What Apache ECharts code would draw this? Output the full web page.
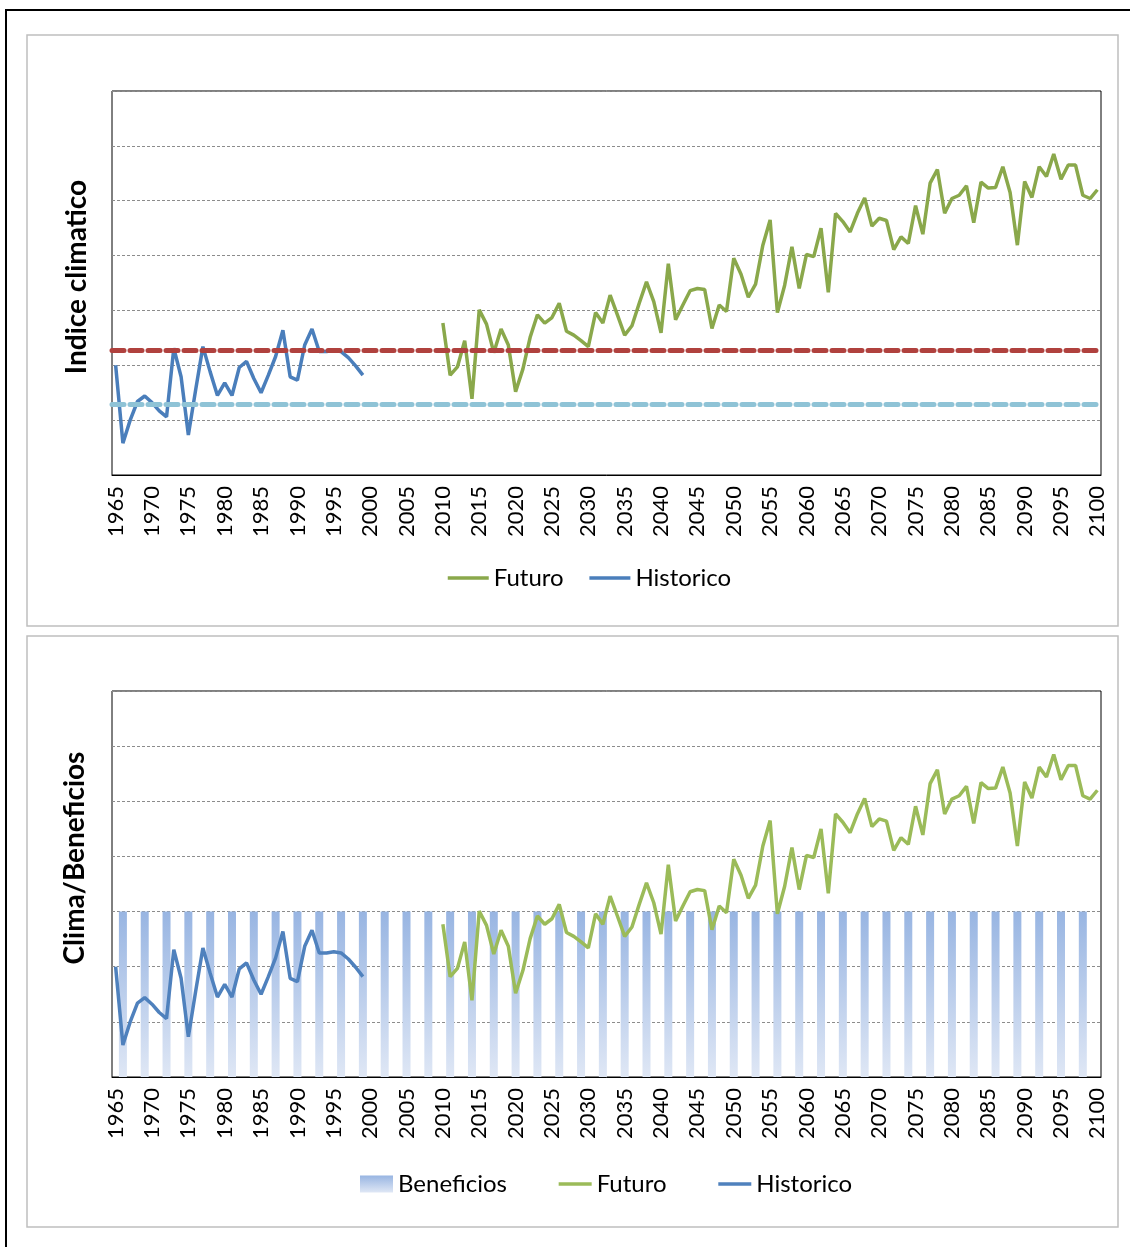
<!DOCTYPE html>
<html>
<head>
<meta charset="utf-8">
<script src="https://cdn.jsdelivr.net/npm/echarts@6/dist/echarts.min.js"></script>
<style>
  html, body { margin: 0; padding: 0; background: #fff; }
  #chart { width: 1130px; height: 1247px; }
</style>
</head>
<body>
<div id="chart"></div>
<script>
// categorias: un año por categoria
const anioInicio = 1965;
const anioFin = 2100;
const anios = [];
for (let y = anioInicio; y <= anioFin; y++) anios.push(String(y));

// Historico 1965-1999
const historicoInicio = 1965;
const historico = [2.00, 0.58, 1.00, 1.34, 1.44, 1.32, 1.17, 1.06, 2.31, 1.79,
  0.73, 1.55, 2.34, 1.88, 1.45, 1.68, 1.45, 1.96, 2.07, 1.76,
  1.50, 1.82, 2.16, 2.64, 1.79, 1.73, 2.37, 2.66, 2.25, 2.25,
  2.27, 2.25, 2.14, 1.99, 1.82];

// Futuro 2010-2100
const futuroInicio = 2010;
const futuro = [2.77, 1.82, 1.97, 2.45, 1.39, 3.01, 2.75, 2.23, 2.66, 2.37,
  1.52, 1.93, 2.51, 2.92, 2.77, 2.87, 3.13, 2.62, 2.55, 2.45,
  2.34, 2.96, 2.77, 3.28, 2.92, 2.55, 2.72, 3.13, 3.52, 3.16,
  2.59, 3.85, 2.83, 3.10, 3.36, 3.40, 3.38, 2.67, 3.10, 2.98,
  3.95, 3.66, 3.24, 3.48, 4.19, 4.65, 2.96, 3.46, 4.16, 3.40,
  4.02, 3.98, 4.50, 3.33, 4.77, 4.62, 4.43, 4.77, 5.05, 4.54,
  4.68, 4.64, 4.11, 4.34, 4.22, 4.91, 4.39, 5.32, 5.57, 4.77,
  5.04, 5.10, 5.27, 4.60, 5.34, 5.23, 5.24, 5.62, 5.15, 4.19,
  5.35, 5.06, 5.62, 5.44, 5.85, 5.39, 5.65, 5.65, 5.10, 5.04,
  5.20];

// Beneficios (barras cada 3 años)
const beneficiosAnios = [1966, 1969, 1972, 1975, 1978, 1981, 1984, 1987, 1990, 1993,
  1996, 1999, 2002, 2005, 2008, 2011, 2014, 2017, 2020, 2023,
  2026, 2029, 2032, 2035, 2038, 2041, 2044, 2047, 2050, 2053,
  2056, 2059, 2062, 2065, 2068, 2071, 2074, 2077, 2080, 2083,
  2086, 2089, 2092, 2095, 2098];
const beneficios = [3, 3, 3, 3, 3, 3, 3, 3, 3, 3,
  3, 3, 3, 3, 3, 3, 3, 3, 3, 3,
  3, 3, 3, 3, 3, 3, 3, 3, 3, 3,
  3, 3, 3, 3, 3, 3, 3, 3, 3, 3,
  3, 3, 3, 3, 3];

// umbrales (lineas discontinuas)
const umbralAlto = 2.27;
const umbralBajo = 1.29;

const font = "Lato";
const serieDesde = (inicio, valores) => valores.map((v, i) => [String(inicio + i), v]);

const xAxisBase = (gridIndex) => ({
  type: "category",
  gridIndex,
  data: anios,
  boundaryGap: true,
  axisLine: { lineStyle: { color: "#000", width: 1 } },
  axisTick: { show: false },
  axisLabel: {
    interval: 4,
    rotate: 90,
    margin: 11,
    color: "#000",
    fontFamily: font,
    fontSize: 22,
  },
});

const yAxisBase = (gridIndex) => ({
  type: "value",
  gridIndex,
  min: 0,
  max: 7,
  interval: 1,
  axisLine: { show: false },
  axisTick: { show: false },
  axisLabel: { show: false },
  splitLine: { lineStyle: { color: "#8c8c8c", type: [3, 2], width: 1 } },
});

// item de leyenda tipo linea, sin simbolo
const itemLinea = (name, color) => ({
  name,
  itemStyle: { opacity: 0 },
  lineStyle: { color, width: 3.5, opacity: 1 },
});

const chart = echarts.init(document.getElementById("chart"));
chart.setOption({
  animation: false,
  backgroundColor: "#fff",
  graphic: [
    // marco exterior
    { type: "rect", shape: { x: 6, y: 10, width: 1140, height: 1250 },
      style: { fill: "none", stroke: "#000", lineWidth: 2 }, silent: true },
    // paneles
    { type: "rect", shape: { x: 27, y: 35, width: 1091, height: 591 },
      style: { fill: "none", stroke: "#bfbfbf", lineWidth: 1.5 }, silent: true },
    { type: "rect", shape: { x: 27, y: 636, width: 1091, height: 591 },
      style: { fill: "none", stroke: "#bfbfbf", lineWidth: 1.5 }, silent: true },
    // titulos de eje
    { type: "text", x: 77, y: 277, rotation: Math.PI / 2,
      style: { text: "Indice climatico", fill: "#000", font: "bold 28px " + font,
        textAlign: "center", textVerticalAlign: "middle" } },
    { type: "text", x: 75, y: 858, rotation: Math.PI / 2,
      style: { text: "Clima/Beneficios", fill: "#000", font: "bold 28px " + font,
        textAlign: "center", textVerticalAlign: "middle" } },
  ],
  grid: [
    { left: 112, top: 91, width: 989, height: 384, show: true, borderColor: "#000", borderWidth: 1, containLabel: false },
    { left: 112, top: 691, width: 989, height: 386, show: true, borderColor: "#000", borderWidth: 1, containLabel: false },
  ],
  xAxis: [xAxisBase(0), xAxisBase(1)],
  yAxis: [yAxisBase(0), yAxisBase(1)],
  legend: [
    {
      left: 446, top: 566, padding: 0,
      itemWidth: 41, itemHeight: 14, itemGap: 24,
      textStyle: { fontFamily: font, fontSize: 24, color: "#000" },
      data: [itemLinea("Futuro", "#8aa84b"), itemLinea("Historico", "#4a7ebb")],
    },
    {
      left: 360, top: 1172, padding: 0,
      itemWidth: 33, itemHeight: 17, itemGap: 50,
      textStyle: { fontFamily: font, fontSize: 24, color: "#000" },
      data: [{ name: "Beneficios", icon: "rect" }, itemLinea("Futuro", "#9bbb59"), itemLinea("Historico", "#4f81bd")],
    },
  ],
  series: [
    {
      name: "Futuro", type: "line", xAxisIndex: 0, yAxisIndex: 0,
      data: serieDesde(futuroInicio, futuro),
      symbol: "none", z: 3,
      lineStyle: { color: "#8aa84b", width: 3.5 }, itemStyle: { color: "#8aa84b" },
    },
    {
      name: "Historico", type: "line", xAxisIndex: 0, yAxisIndex: 0,
      data: serieDesde(historicoInicio, historico),
      symbol: "none", z: 3,
      lineStyle: { color: "#4a7ebb", width: 3.5 }, itemStyle: { color: "#4a7ebb" },
      markLine: {
        silent: true,
        symbol: ["none", "none"],
        label: { show: false },
        data: [
          { yAxis: umbralAlto, lineStyle: { color: "#b0413e", width: 5, type: [12, 6], cap: "round" } },
          { yAxis: umbralBajo, lineStyle: { color: "#8fc3d6", width: 5, type: [12, 6], cap: "round" } },
        ],
      },
    },
    {
      name: "Beneficios", type: "bar", xAxisIndex: 1, yAxisIndex: 1,
      data: beneficiosAnios.map((a, i) => [String(a), beneficios[i]]),
      barWidth: 8, z: 1,
      itemStyle: {
        color: new echarts.graphic.LinearGradient(0, 0, 0, 1, [
          { offset: 0, color: "#98b5e2" },
          { offset: 1, color: "#dfe7f5" },
        ]),
      },
    },
    {
      name: "Futuro", type: "line", xAxisIndex: 1, yAxisIndex: 1,
      data: serieDesde(futuroInicio, futuro),
      symbol: "none", z: 3,
      lineStyle: { color: "#9bbb59", width: 3.5 }, itemStyle: { color: "#9bbb59" },
    },
    {
      name: "Historico", type: "line", xAxisIndex: 1, yAxisIndex: 1,
      data: serieDesde(historicoInicio, historico),
      symbol: "none", z: 3,
      lineStyle: { color: "#4f81bd", width: 3.5 }, itemStyle: { color: "#4f81bd" },
    },
  ],
});
</script>
</body>
</html>
